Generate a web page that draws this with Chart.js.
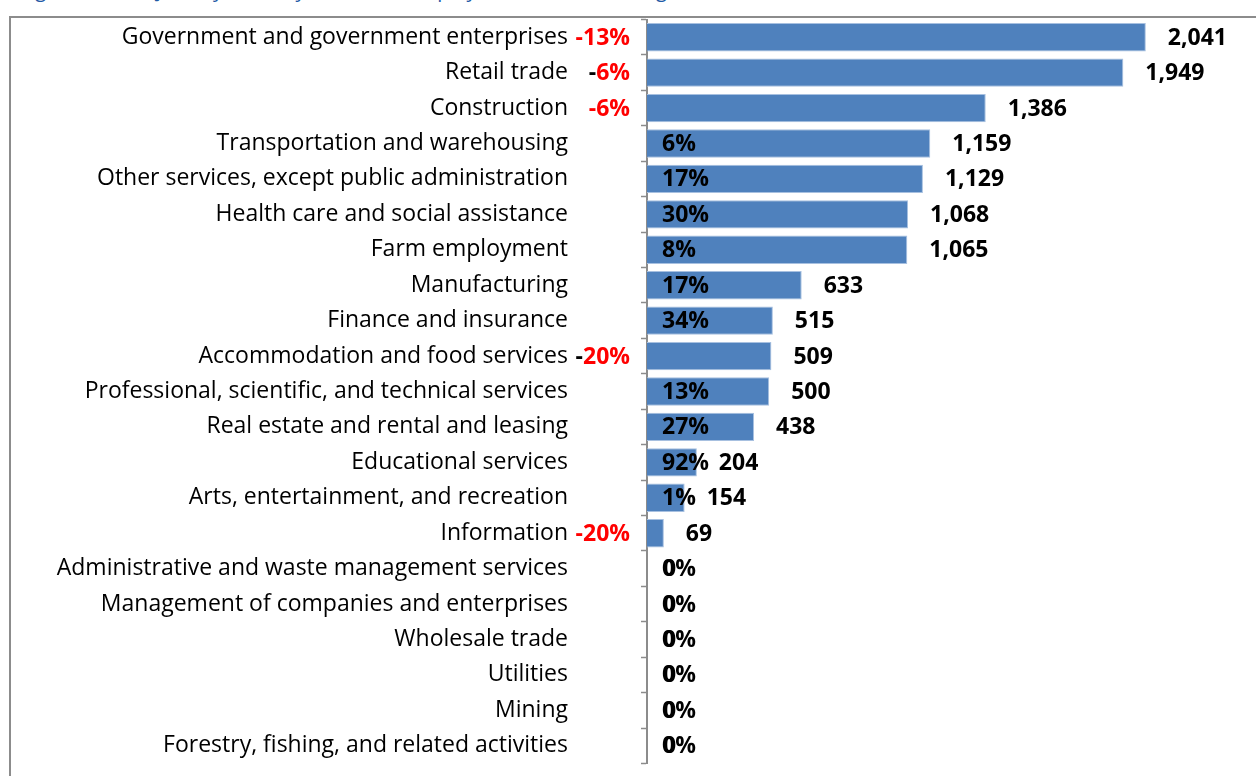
<!DOCTYPE html>
<html>
<head>
<meta charset="utf-8">
<script src="https://cdn.jsdelivr.net/npm/chart.js@4/dist/chart.umd.min.js"></script>
<style>
  html, body { margin: 0; padding: 0; background: #fff; overflow: hidden; }
  body { width: 1256px; height: 776px; position: relative; }
  #titulo {
    position: absolute; left: 20px; top: -24px; white-space: nowrap;
    font: 20px "Open Sans", sans-serif; color: #1f5aa6;
  }
  #marco {
    position: absolute; left: 9px; top: 16px; width: 1400px; height: 900px;
    border: 2px solid #8c8c8c; box-sizing: border-box;
  }
  #contenedor { position: absolute; left: 0; top: 0; width: 1258px; height: 776px; }
</style>
</head>
<body>
<div id="titulo">Figure 4: Total Jobs by Industry, 2011 and Employment Percent Change, 2001-2011</div>
<div id="marco"></div>
<div id="contenedor"><canvas id="graficaEmpleo"></canvas></div>
<script>
// industrias, empleos y cambio porcentual
const industrias = [
  'Government and government enterprises',
  'Retail trade',
  'Construction',
  'Transportation and warehousing',
  'Other services, except public administration',
  'Health care and social assistance',
  'Farm employment',
  'Manufacturing',
  'Finance and insurance',
  'Accommodation and food services',
  'Professional, scientific, and technical services',
  'Real estate and rental and leasing',
  'Educational services',
  'Arts, entertainment, and recreation',
  'Information',
  'Administrative and waste management services',
  'Management of companies and enterprises',
  'Wholesale trade',
  'Utilities',
  'Mining',
  'Forestry, fishing, and related activities'
];
const empleos = [2041, 1949, 1386, 1159, 1129, 1068, 1065, 633, 515, 509, 500, 438, 204, 154, 69, 0, 0, 0, 0, 0, 0];
const cambioPct = [-13, -6, -6, 6, 17, 30, 8, 17, 34, -20, 13, 27, 92, 1, -20, 0, 0, 0, 0, 0, 0];

// filas donde el signo menos sale en negro
const menosNegro = [1, 9];

const fuente = '"Open Sans", sans-serif';

// etiquetas de valor y de porcentaje
const etiquetas = {
  id: 'etiquetas',
  afterDatasetsDraw(chart) {
    const ctx = chart.ctx;
    const izq = chart.chartArea.left;
    const barras = chart.getDatasetMeta(0).data;
    ctx.save();
    ctx.font = 'bold 23px ' + fuente;
    ctx.textBaseline = 'middle';
    barras.forEach((bar, i) => {
      const v = empleos[i];
      const y = bar.y + 1;
      // numero de empleos
      ctx.fillStyle = '#000';
      ctx.textAlign = 'left';
      ctx.fillText(v.toLocaleString('en-US'), bar.x + (v > 0 ? 22 : 16), y);

      // cambio porcentual
      const p = cambioPct[i];
      if (p < 0) {
        const resto = Math.abs(p) + '%';
        ctx.textAlign = 'right';
        ctx.fillStyle = '#ff0000';
        ctx.fillText(resto, izq - 17, y);
        const w = ctx.measureText(resto).width;
        ctx.fillStyle = menosNegro.includes(i) ? '#000' : '#ff0000';
        ctx.fillText('-', izq - 17 - w, y);
      } else {
        ctx.textAlign = 'left';
        ctx.fillStyle = '#000';
        ctx.fillText(p + '%', izq + 15, y);
      }
    });
    ctx.restore();
  }
};

const ctx = document.getElementById('graficaEmpleo').getContext('2d');
const grafica = new Chart(ctx, {
  type: 'bar',
  data: {
    labels: industrias,
    datasets: [{
      data: empleos,
      backgroundColor: '#4f81bd',
      borderColor: '#a7c0e0',
      borderWidth: 1,
      categoryPercentage: 0.8,
      barPercentage: 1
    }]
  },
  options: {
    indexAxis: 'y',
    responsive: true,
    maintainAspectRatio: false,
    animation: false,
    layout: { padding: { top: 19.5, bottom: 12.5, left: 0, right: 0 } },
    plugins: { legend: { display: false }, tooltip: { enabled: false } },
    scales: {
      x: { display: false, min: 0, max: 2500 },
      y: {
        afterFit(scale) {
          // ancho fijo del eje y sin relleno vertical extra
          scale.width = 647;
          scale.paddingTop = 0;
          scale.paddingBottom = 0;
        },
        grid: {
          offset: true,
          drawOnChartArea: false,
          tickLength: 6,
          tickColor: '#8c8c8c',
          tickWidth: 1.5
        },
        border: { color: '#8c8c8c', width: 2 },
        ticks: {
          padding: 73,
          color: '#000',
          font: { family: fuente, size: 23 }
        }
      }
    }
  },
  plugins: [etiquetas]
});
</script>
</body>
</html>
